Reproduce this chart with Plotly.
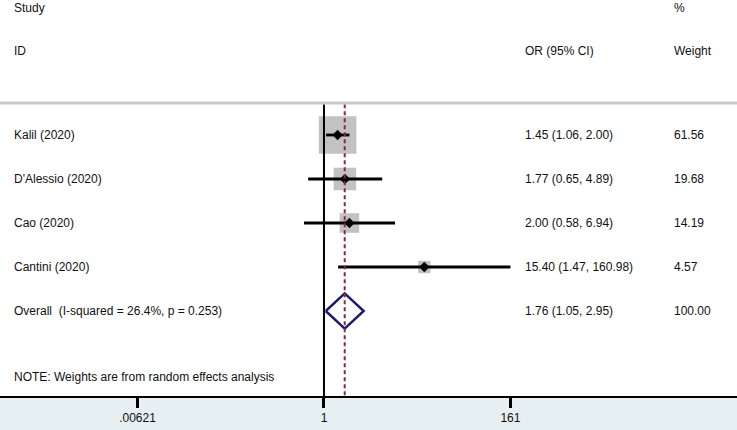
import plotly.graph_objects as go

# study-level data
studies = ["Kalil (2020)", "D'Alessio (2020)", "Cao (2020)", "Cantini (2020)"]
odds_ratio = [1.45, 1.77, 2.00, 15.40]
ci_lower = [1.06, 0.65, 0.58, 1.47]
ci_upper = [2.00, 4.89, 6.94, 160.98]
weights = [61.56, 19.68, 14.19, 4.57]

overall_label = "Overall  (I-squared = 26.4%, p = 0.253)"
overall_or = 1.76
overall_lower = 1.05
overall_upper = 2.95
overall_weight = 100.00

tick_vals = [0.00621, 1, 161]
tick_text = [".00621", "1", "161"]

rows = list(range(1, len(studies) + 1))
overall_row = len(studies) + 1

font = dict(family="Liberation Sans, Arial, sans-serif", size=12, color="#111111")

fig = go.Figure()

# weight boxes (area ~ weight)
fig.add_trace(go.Scatter(
    x=odds_ratio, y=rows, mode="markers",
    marker=dict(symbol="square", color="#a8a8a8",
                size=[4.4 * w ** 0.5 + 3 for w in weights], line=dict(width=0)),
    hoverinfo="skip", showlegend=False,
))

# confidence intervals
ci_x, ci_y = [], []
for lo, hi, r in zip(ci_lower, ci_upper, rows):
    ci_x += [lo, hi, None]
    ci_y += [r, r, None]
fig.add_trace(go.Scatter(
    x=ci_x, y=ci_y, mode="lines", line=dict(color="black", width=2.8),
    hoverinfo="skip", showlegend=False,
))

# point estimates
fig.add_trace(go.Scatter(
    x=odds_ratio, y=rows, mode="markers",
    marker=dict(symbol="diamond", color="black", size=8),
    hoverinfo="skip", showlegend=False,
))

# pooled estimate diamond
fig.add_trace(go.Scatter(
    x=[overall_lower, overall_or, overall_upper, overall_or, overall_lower],
    y=[overall_row, overall_row - 0.4, overall_row, overall_row + 0.4, overall_row],
    mode="lines", line=dict(color="#1c1c6e", width=2.5),
    hoverinfo="skip", showlegend=False,
))

# null line and overall effect line
fig.add_shape(type="line", x0=1, x1=1, y0=0.3, y1=6.932, xref="x", yref="y",
              line=dict(color="black", width=2))
fig.add_shape(type="line", x0=overall_or, x1=overall_or, y0=0.3, y1=6.932,
              xref="x", yref="y", line=dict(color="#8c2a3a", width=2, dash="4px,3px"))
# header separator
fig.add_shape(type="line", x0=0, x1=1, y0=0.273, y1=0.273, xref="paper", yref="y",
              line=dict(color="#c8c8c8", width=3))

left_x = 12 / 737
ci_col = 523 / 737
w_col = 672 / 737


def label(text, x, y):
    fig.add_annotation(text=text, x=x, y=y, xref="paper", yref="y",
                       xanchor="left", yanchor="middle", showarrow=False, font=font)


label("Study", left_x, -1.886)
label("ID", left_x, -0.909)
label("OR (95% CI)", ci_col, -0.909)
label("%", w_col, -1.886)
label("Weight", w_col, -0.909)

for s, o, lo, hi, w, r in zip(studies, odds_ratio, ci_lower, ci_upper, weights, rows):
    label(s, left_x, r)
    label(f"{o:.2f} ({lo:.2f}, {hi:.2f})", ci_col, r)
    label(f"{w:.2f}", w_col, r)

label(overall_label, left_x, overall_row)
label(f"{overall_or:.2f} ({overall_lower:.2f}, {overall_upper:.2f})", ci_col, overall_row)
label(f"{overall_weight:.2f}", w_col, overall_row)
label("NOTE: Weights are from random effects analysis", left_x, 6.5)

fig.update_xaxes(
    type="log", range=[-3.834, 4.888], tickmode="array",
    tickvals=tick_vals, ticktext=tick_text,
    ticks="outside", ticklen=10, tickwidth=2.5, tickcolor="black",
    showline=True, linecolor="black", linewidth=2,
    showgrid=False, zeroline=False, tickfont=font,
)
fig.update_yaxes(range=[6.932, -2.068], visible=False, showgrid=False)

fig.update_layout(
    width=737, height=430,
    margin=dict(l=0, r=0, t=0, b=34),
    plot_bgcolor="white", paper_bgcolor="#e6eff2",
    font=font,
)

# drop the default page margin so the figure fills the window exactly
fig.write_html("out.html", config={"displayModeBar": False},
               post_script="document.body.style.margin = '0';")
